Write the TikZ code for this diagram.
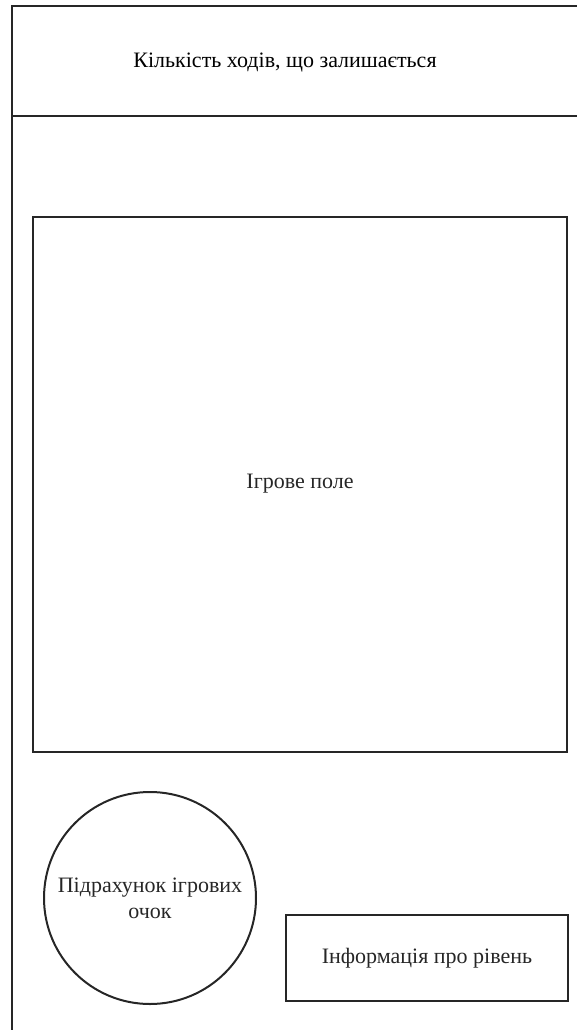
\documentclass[tikz,border=0pt]{standalone}
\usepackage{fontspec}
\setmainfont{Liberation Serif}
\usepackage{tikz}
\usetikzlibrary{positioning, shapes}

\tikzset{
    frame/.style={line width=2.4pt, black!85},
    panel/.style={draw, line width=2pt, black!85, inner sep=0pt},
    label/.style={font=\fontsize{22}{26}\selectfont, align=center}
}

\begin{document}
\begin{tikzpicture}[x=1pt, y=-1pt]
    \useasboundingbox (0,0) rectangle (577,1030);
    % рамка екрана
    \draw[frame] (12,1030) -- (12,6) -- (577,6);
    \draw[frame] (12,116) -- (577,116);
    \node[label] (moves) at (285,63) {Кількість ходів, що залишається};

    % ігрове поле
    \node[panel, label, minimum width=534pt, minimum height=535pt] (field) at (300,484) {Ігрове поле};

    % нижня частина
    \node[panel, label, circle, minimum size=212pt] (score) at (150,898) {Підрахунок ігрових\\очок};
    \node[panel, label, minimum width=282pt, minimum height=86pt] (level) at (427,958) {Інформація про рівень};
\end{tikzpicture}
\end{document}
